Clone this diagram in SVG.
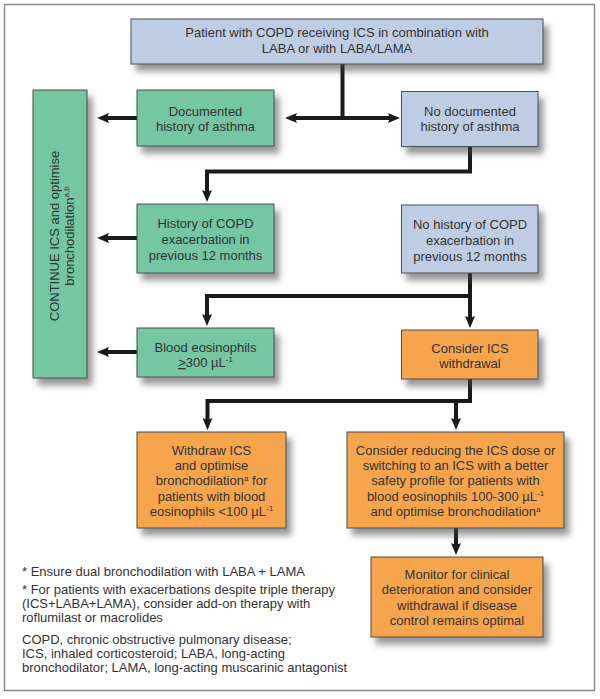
<svg xmlns="http://www.w3.org/2000/svg" width="600" height="699" viewBox="0 0 600 699">
<defs>
<style>
.box{stroke:#4d4d4d;stroke-width:1;filter:url(#sh)}
.blue{fill:#bfcde4}
.green{fill:#74c6a3}
.orange{fill:#f6a54e}
text{font-family:"Liberation Sans",Arial,sans-serif;font-size:13px;fill:#333}
.c{text-anchor:middle}
.con{fill:none;stroke:#1a1a1a;stroke-width:4;stroke-linejoin:miter}
.arr{marker-end:url(#ah)}
.sup{font-size:8px}
</style>
<filter id="sh" x="-10%" y="-10%" width="130%" height="140%">
<feDropShadow dx="5" dy="7" stdDeviation="3" flood-color="#444" flood-opacity="0.55"/>
</filter>
<marker id="ah" viewBox="0 0 12 10" refX="4" refY="5" markerWidth="12" markerHeight="10" markerUnits="userSpaceOnUse" orient="auto">
<path d="M0,0 L12,5 L0,10 L2,5 Z" fill="#1a1a1a"/>
</marker>
</defs>
<rect x="4.5" y="4.5" width="590" height="686" fill="#fff" stroke="#8a8a8a" stroke-width="1.5"/>

<g id="connectors">
<path class="con" d="M342.5,64 V118 H293" marker-end="url(#ah)"/>
<path class="con arr" d="M342.5,118 H392"/>
<path class="con arr" d="M137,118 H105"/>
<path class="con arr" d="M470,147 V171.5 H207 V194"/>
<path class="con arr" d="M137,238 H105"/>
<path class="con arr" d="M470,273 V320"/>
<path class="con arr" d="M470,296 H207 V318"/>
<path class="con arr" d="M137,352 H105"/>
<path class="con arr" d="M470,379 V401 H207.5 V422"/>
<path class="con arr" d="M456,401 V422"/>
<path class="con arr" d="M456,528 V547"/>
</g>

<g id="start">
<rect class="box blue" x="131" y="19" width="412" height="45"/>
<text class="c" x="337" y="36.5">Patient with COPD receiving ICS in combination with</text>
<text class="c" x="337" y="53">LABA or with LABA/LAMA</text>
</g>

<g id="continue">
<rect class="box green" x="33" y="90" width="54" height="288"/>
<g transform="translate(60,236) rotate(-90)">
<text class="c" x="0" y="-1">CONTINUE ICS and optimise</text>
<text class="c" x="0" y="14">bronchodilation<tspan class="sup" dy="-5">a,b</tspan></text>
</g>
</g>

<g id="documented">
<rect class="box green" x="137" y="90" width="137" height="56"/>
<text class="c" x="205.5" y="116">Documented</text>
<text class="c" x="205.5" y="131">history of asthma</text>
</g>

<g id="no-documented">
<rect class="box blue" x="401.5" y="91.5" width="136.5" height="55"/>
<text class="c" x="470" y="116">No documented</text>
<text class="c" x="470" y="131">history of asthma</text>
</g>

<g id="history">
<rect class="box green" x="137" y="204" width="137" height="69"/>
<text class="c" x="205.5" y="228">History of COPD</text>
<text class="c" x="205.5" y="244">exacerbation in</text>
<text class="c" x="205.5" y="260">previous 12 months</text>
</g>

<g id="no-history">
<rect class="box blue" x="401.5" y="205" width="136.5" height="68"/>
<text class="c" x="470" y="229">No history of COPD</text>
<text class="c" x="470" y="245">exacerbation in</text>
<text class="c" x="470" y="261">previous 12 months</text>
</g>

<g id="eosinophils">
<rect class="box green" x="137" y="328" width="137" height="49"/>
<text class="c" x="205.5" y="351.5">Blood eosinophils</text>
<text class="c" x="205.5" y="367"><tspan text-decoration="underline">&gt;</tspan>300 µL<tspan class="sup" dy="-5">-1</tspan></text>
</g>

<g id="consider-withdrawal">
<rect class="box orange" x="401.5" y="330" width="136.5" height="49"/>
<text class="c" x="470" y="352.5">Consider ICS</text>
<text class="c" x="470" y="368">withdrawal</text>
</g>

<g id="withdraw">
<rect class="box orange" x="137" y="432" width="149" height="96"/>
<text class="c" x="211.5" y="455">Withdraw ICS</text>
<text class="c" x="211.5" y="470">and optimise</text>
<text class="c" x="211.5" y="485">bronchodilation<tspan class="sup" dy="-4">a</tspan><tspan dy="4"> for</tspan></text>
<text class="c" x="211.5" y="500.5">patients with blood</text>
<text class="c" x="211.5" y="515.5">eosinophils &lt;100 µL<tspan class="sup" dy="-5">-1</tspan></text>
</g>

<g id="reduce">
<rect class="box orange" x="347" y="432" width="217" height="96"/>
<text class="c" x="455.5" y="455">Consider reducing the ICS dose or</text>
<text class="c" x="455.5" y="470">switching to an ICS with a better</text>
<text class="c" x="455.5" y="485">safety profile for patients with</text>
<text class="c" x="455.5" y="500.5">blood eosinophils 100-300 µL<tspan class="sup" dy="-5">-1</tspan></text>
<text class="c" x="455.5" y="515.5">and optimise bronchodilation<tspan class="sup" dy="-4">a</tspan></text>
</g>

<g id="monitor">
<rect class="box orange" x="371" y="557" width="172" height="80"/>
<text class="c" x="457" y="579">Monitor for clinical</text>
<text class="c" x="457" y="594">deterioration and consider</text>
<text class="c" x="457" y="609.5">withdrawal if disease</text>
<text class="c" x="457" y="624.5">control remains optimal</text>
</g>

<g id="footnotes">
<text x="22" y="576">* Ensure dual bronchodilation with LABA + LAMA</text>
<text x="22" y="594">* For patients with exacerbations despite triple therapy</text>
<text x="22" y="608">(ICS+LABA+LAMA), consider add-on therapy with</text>
<text x="22" y="622">roflumilast or macrolides</text>
<text x="22" y="643.5">COPD, chronic obstructive pulmonary disease;</text>
<text x="22" y="657.5">ICS, inhaled corticosteroid; LABA, long-acting</text>
<text x="22" y="671.5">bronchodilator; LAMA, long-acting muscarinic antagonist</text>
</g>
</svg>
